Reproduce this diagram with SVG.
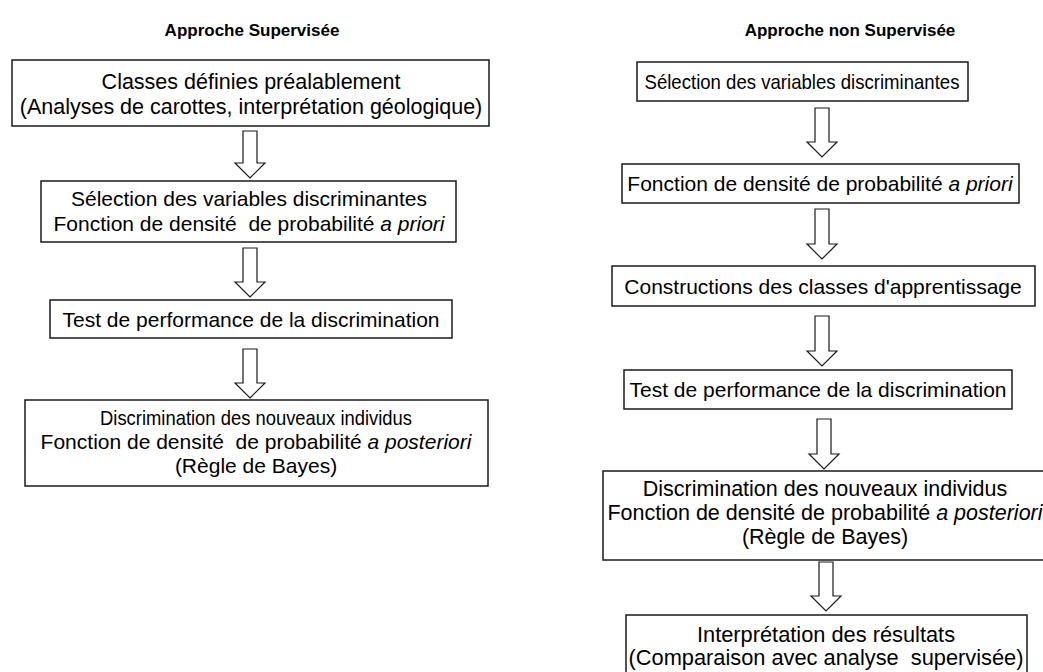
<svg xmlns="http://www.w3.org/2000/svg" width="1043" height="672" viewBox="0 0 1043 672">
<style>
.bg{fill:#ffffff}
.box{fill:#ffffff;stroke:#1a1a1a;stroke-width:1.5}
.arr{fill:#ffffff;stroke:#1a1a1a;stroke-width:1.2;stroke-linejoin:miter}
.t{font-family:"Liberation Sans",Arial,sans-serif;font-size:21px;fill:#000;text-anchor:middle}
.h{font-family:"Liberation Sans",Arial,sans-serif;font-size:17px;font-weight:bold;fill:#000;text-anchor:middle}
.i{font-style:italic}
</style>
<rect class="bg" x="0" y="0" width="1043" height="672"/>
<text class="h" x="252" y="36">Approche Supervisée</text>
<text class="h" x="850" y="36">Approche non Supervisée</text>
<g id="connectors">
<polygon class="arr" points="243,131 257,131 257,163 265,163 250,178 235,163 243,163"/>
<polygon class="arr" points="243,248 257,248 257,282 265,282 250,297 235,282 243,282"/>
<polygon class="arr" points="243,349 257,349 257,383 265,383 250,398 235,383 243,383"/>
<polygon class="arr" points="815,108 829,108 829,142 837,142 822,157 807,142 815,142"/>
<polygon class="arr" points="815,209 829,209 829,244 837,244 822,259 807,244 815,244"/>
<polygon class="arr" points="815,316 829,316 829,351 837,351 822,366 807,351 815,351"/>
<polygon class="arr" points="817,419 831,419 831,454 839,454 824,469 809,454 817,454"/>
<polygon class="arr" points="819,562 833,562 833,596 841,596 826,611 811,596 819,596"/>
</g>
<g id="L1">
<rect class="box" x="12" y="60" width="477" height="66"/>
<text class="t" x="251" y="89" style="font-size:21.5px">Classes définies préalablement</text>
<text class="t" x="251" y="114" style="font-size:21.5px">(Analyses de carottes, interprétation géologique)</text>
</g>
<g id="L2">
<rect class="box" x="41" y="181" width="415" height="61"/>
<text class="t" x="249" y="206">Sélection des variables discriminantes</text>
<text class="t" x="249" y="231" xml:space="preserve">Fonction de densité  de probabilité <tspan class="i">a priori</tspan></text>
</g>
<g id="L3">
<rect class="box" x="50" y="300" width="402" height="38"/>
<text class="t" x="251" y="327">Test de performance de la discrimination</text>
</g>
<g id="L4">
<rect class="box" x="25" y="400" width="463" height="86"/>
<text class="t" x="256" y="425" textLength="312" lengthAdjust="spacingAndGlyphs">Discrimination des nouveaux individus</text>
<text class="t" x="256" y="449" xml:space="preserve">Fonction de densité  de probabilité <tspan class="i">a posteriori</tspan></text>
<text class="t" x="256" y="473">(Règle de Bayes)</text>
</g>
<g id="R1">
<rect class="box" x="637" y="62" width="331" height="39"/>
<text class="t" x="802" y="89" textLength="315" lengthAdjust="spacingAndGlyphs">Sélection des variables discriminantes</text>
</g>
<g id="R2">
<rect class="box" x="622" y="164" width="397" height="39"/>
<text class="t" x="820" y="191">Fonction de densité de probabilité <tspan class="i">a priori</tspan></text>
</g>
<g id="R3">
<rect class="box" x="612" y="266" width="423" height="40"/>
<text class="t" x="823" y="294">Constructions des classes d'apprentissage</text>
</g>
<g id="R4">
<rect class="box" x="624" y="370" width="388" height="39"/>
<text class="t" x="818" y="397">Test de performance de la discrimination</text>
</g>
<g id="R5">
<rect class="box" x="603" y="471" width="445" height="89"/>
<text class="t" x="825" y="496" style="font-size:21.5px">Discrimination des nouveaux individus</text>
<text class="t" x="825" y="520" style="font-size:21.5px">Fonction de densité de probabilité <tspan class="i">a posteriori</tspan></text>
<text class="t" x="825" y="544" style="font-size:21.5px">(Règle de Bayes)</text>
</g>
<g id="R6">
<rect class="box" x="626" y="615" width="401" height="70"/>
<text class="t" x="826" y="642" style="font-size:21.8px">Interprétation des résultats</text>
<text class="t" x="826" y="665" style="font-size:21.8px" xml:space="preserve">(Comparaison avec analyse  supervisée)</text>
</g>
</svg>
